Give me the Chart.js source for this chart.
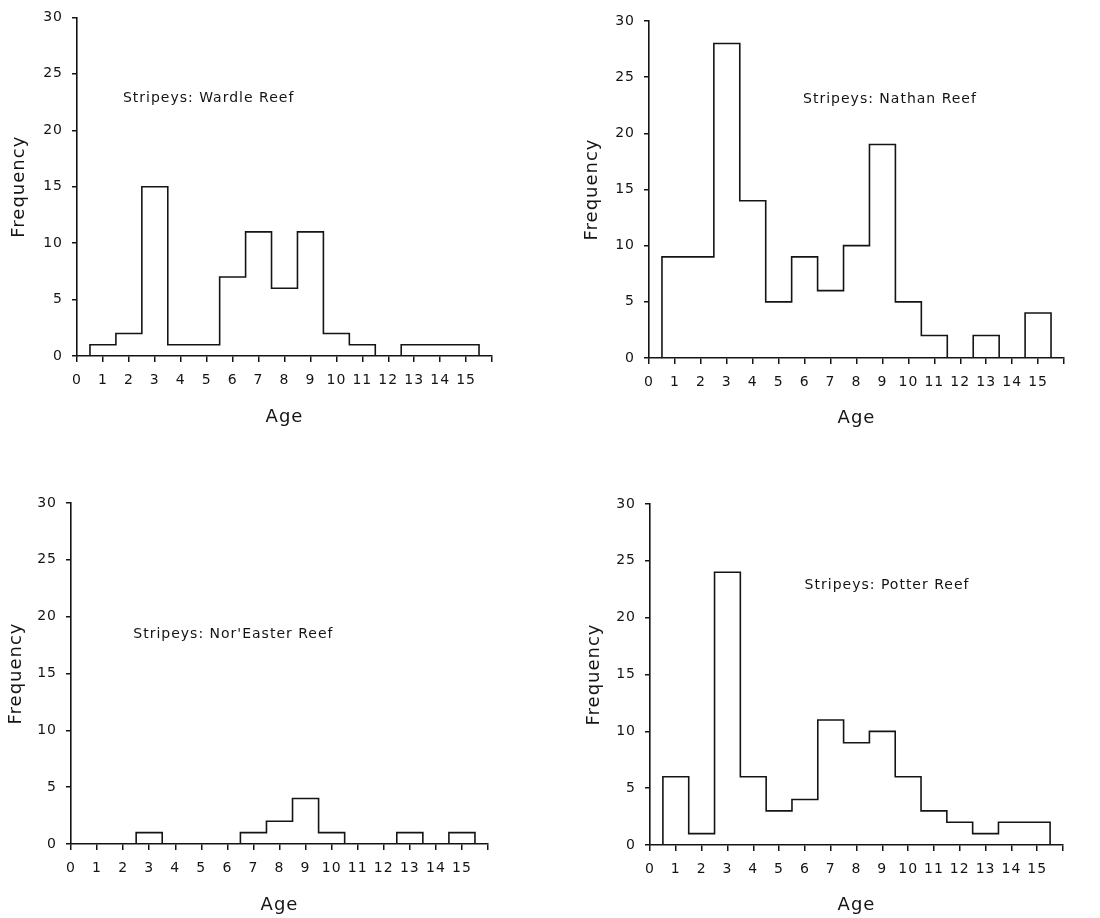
<!DOCTYPE html>
<html>
<head>
<meta charset="utf-8">
<script src="https://cdn.jsdelivr.net/npm/chart.js@4.4.1/dist/chart.umd.min.js"></script>
<style>
  html, body { margin: 0; padding: 0; background: #ffffff; }
  #wrap { position: relative; width: 1100px; height: 918px; overflow: hidden; }
  canvas { position: absolute; }
</style>
</head>
<body>
<div id="wrap">
  <canvas id="c1" width="550" height="459" style="left:0px;top:0px"></canvas>
  <canvas id="c2" width="550" height="459" style="left:550px;top:0px"></canvas>
  <canvas id="c3" width="550" height="459" style="left:0px;top:459px"></canvas>
  <canvas id="c4" width="550" height="459" style="left:550px;top:459px"></canvas>
</div>
<script>
// ---- data ----
const ages = [0, 1, 2, 3, 4, 5, 6, 7, 8, 9, 10, 11, 12, 13, 14, 15];
const wardleFreq    = [0, 1, 2, 15, 1, 1, 7, 11, 6, 11, 2, 1, 0, 1, 1, 1];
const nathanFreq    = [0, 9, 9, 28, 14, 5, 9, 6, 10, 19, 5, 2, 0, 2, 0, 4];
const noreasterFreq = [0, 0, 0, 1, 0, 0, 0, 1, 2, 4, 1, 0, 0, 1, 0, 1];
const potterFreq    = [0, 6, 1, 24, 6, 3, 4, 11, 9, 10, 6, 3, 2, 1, 2, 2];
const panelNotes = ['Stripeys: Wardle Reef', 'Stripeys: Nathan Reef', "Stripeys: Nor'Easter Reef", 'Stripeys: Potter Reef'];
const xTickLabels = ['0','1','2','3','4','5','6','7','8','9','10','11','12','13','14','15'];
const yTicks = [0, 5, 10, 15, 20, 25, 30];
const xTitle = 'Age';
const yTitle = 'Frequency';

// ---- layout per panel (not data) ----
const panels = [
  { id: 'c1', values: wardleFreq,    note: panelNotes[0], noteAt: [1.77, 22.8],
    yWidth: 77, yTitlePad: 9,  xHeight: 103, xTitlePad: 31, padTop: 16, padRight: 58 },
  { id: 'c2', values: nathanFreq,    note: panelNotes[1], noteAt: [5.94, 23.0],
    yWidth: 99, yTitlePad: 32, xHeight: 101, xTitlePad: 30, padTop: 21, padRight: 36 },
  { id: 'c3', values: noreasterFreq, note: panelNotes[2], noteAt: [2.39, 18.4],
    yWidth: 71, yTitlePad: 6,  xHeight: 74,  xTitlePad: 2,  padTop: 44, padRight: 62 },
  { id: 'c4', values: potterFreq,    note: panelNotes[3], noteAt: [5.99, 22.8],
    yWidth: 100, yTitlePad: 34, xHeight: 73, xTitlePad: 2,  padTop: 45, padRight: 37 }
];

const INK = '#141414';
const FONT = "'DejaVu Sans', sans-serif";

// step outline built from bin edges (each age bin spans age-0.5 .. age+0.5)
function stepPoints(values) {
  const pts = ages.map((a, i) => ({ x: a - 0.5, y: values[i] }));
  pts.push({ x: ages[ages.length - 1] + 0.5, y: 0 });
  return pts;
}

// slightly spaced lettering, as in the original typewriter-style figure
const spacingPlugin = {
  id: 'spacing',
  beforeDraw(chart) { if ('letterSpacing' in chart.ctx) chart.ctx.letterSpacing = '1px'; },
  afterDraw(chart) { if ('letterSpacing' in chart.ctx) chart.ctx.letterSpacing = '0px'; }
};

const notePlugin = {
  id: 'panelNote',
  afterDatasetsDraw(chart, args, opts) {
    const { ctx, scales } = chart;
    ctx.save();
    ctx.font = '14px ' + FONT;
    if ('letterSpacing' in ctx) ctx.letterSpacing = '1px';
    ctx.fillStyle = INK;
    ctx.textAlign = 'left';
    ctx.textBaseline = 'middle';
    ctx.fillText(opts.text, scales.x.getPixelForValue(opts.at[0]), scales.y.getPixelForValue(opts.at[1]));
    ctx.restore();
  }
};

panels.forEach(p => {
  new Chart(document.getElementById(p.id), {
    type: 'line',
    data: {
      datasets: [{
        data: stepPoints(p.values),
        stepped: 'before',
        borderColor: INK,
        borderWidth: 1.6,
        pointRadius: 0,
        fill: false,
        tension: 0
      }]
    },
    options: {
      responsive: false,
      animation: false,
      devicePixelRatio: 1,
      layout: { padding: { top: p.padTop, right: p.padRight, left: 0, bottom: 0 } },
      plugins: {
        legend: { display: false },
        tooltip: { enabled: false },
        panelNote: { text: p.note, at: p.noteAt }
      },
      scales: {
        x: {
          type: 'linear',
          min: 0,
          max: 16,
          afterFit: s => { s.height = p.xHeight; },
          grid: { drawOnChartArea: false, drawTicks: true, tickLength: 6, color: INK, lineWidth: 1.5 },
          border: { display: true, color: INK, width: 1.6 },
          ticks: {
            stepSize: 1,
            padding: 10,
            maxRotation: 0,
            autoSkip: false,
            color: INK,
            font: { family: FONT, size: 14 },
            callback: v => (v < xTickLabels.length ? xTickLabels[v] : '')
          },
          title: {
            display: true, text: xTitle, color: INK,
            font: { family: FONT, size: 18 },
            padding: { top: 0, bottom: p.xTitlePad }
          }
        },
        y: {
          type: 'linear',
          min: yTicks[0],
          max: yTicks[yTicks.length - 1],
          afterFit: s => { s.width = p.yWidth; },
          grid: { drawOnChartArea: false, drawTicks: true, tickLength: 5, color: INK, lineWidth: 1.5 },
          border: { display: true, color: INK, width: 1.6 },
          ticks: {
            stepSize: 5,
            padding: 9,
            color: INK,
            font: { family: FONT, size: 14 }
          },
          title: {
            display: true, text: yTitle, color: INK,
            font: { family: FONT, size: 18 },
            padding: { top: p.yTitlePad, bottom: 0 }
          }
        }
      }
    },
    plugins: [spacingPlugin, notePlugin]
  });
});
</script>
</body>
</html>
